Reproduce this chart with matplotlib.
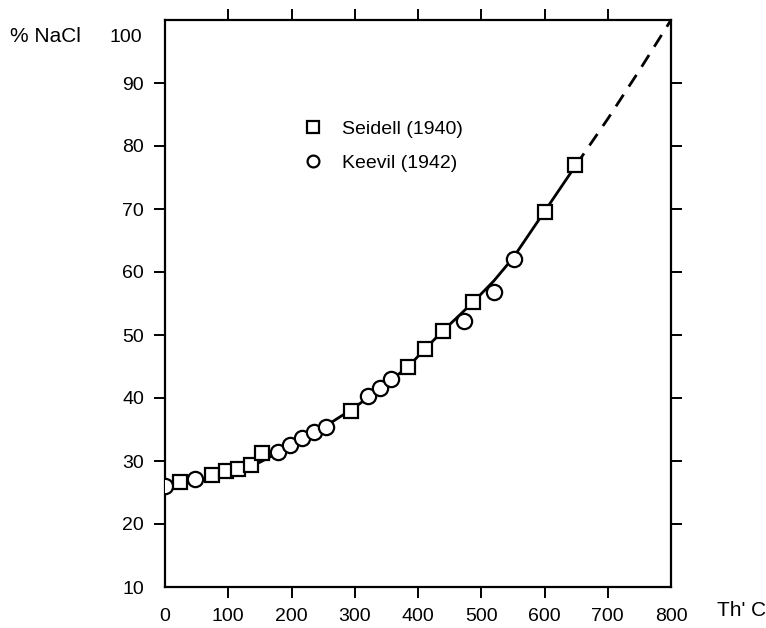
import matplotlib
matplotlib.use("Agg")
import matplotlib.pyplot as plt
from matplotlib.lines import Line2D
import matplotlib.transforms as mtransforms

plt.rcParams['font.family'] = ['Liberation Sans', 'DejaVu Sans']

# Data
seidell_T = [24, 75, 96, 116, 136, 154, 294, 384, 411, 440, 487, 601, 648]
seidell_nacl = [26.7, 27.8, 28.4, 28.8, 29.3, 31.3, 38.0, 45.0, 47.8, 50.7, 55.2, 69.6, 77.0]

keevil_T = [0, 48, 178, 198, 217, 236, 254, 321, 340, 357, 473, 520, 551]
keevil_nacl = [26.0, 27.1, 31.5, 32.5, 33.6, 34.6, 35.4, 40.3, 41.6, 43.0, 52.2, 56.9, 62.0]

curve_T = [0, 50, 100, 150, 200, 250, 300, 350, 385, 411, 440, 487, 520, 550, 600, 650]
curve_nacl = [26.0, 26.9, 28.0, 29.8, 32.4, 35.3, 38.5, 42.3, 45.0, 47.8, 50.7, 55.2, 58.6, 62.2, 69.6, 77.0]

extrap_T = [650, 700, 750, 800]
extrap_nacl = [77.0, 84.3, 92.0, 100.0]

xticks = [0, 100, 200, 300, 400, 500, 600, 700, 800]
yticks = [10, 20, 30, 40, 50, 60, 70, 80, 90]

W, H = 766, 628
fig = plt.figure(figsize=(W / 100, H / 100), dpi=100)
ax_left, ax_right, ax_top, ax_bottom = 165, 671, 20, 587
ax = fig.add_axes([ax_left / W, (H - ax_bottom) / H,
                   (ax_right - ax_left) / W, (ax_bottom - ax_top) / H])

ax.plot(curve_T, curve_nacl, color='black', lw=2.0, solid_capstyle='butt', zorder=2)
ax.plot(extrap_T, extrap_nacl, color='black', lw=2.0, ls=(0, (5, 3.5)), zorder=2)

ax.plot(keevil_T, keevil_nacl, ls='none', marker='o', ms=11, mfc='white',
        mec='black', mew=1.6, zorder=3)
ax.plot(seidell_T, seidell_nacl, ls='none', marker='s', ms=10.5, mfc='white',
        mec='black', mew=1.6, zorder=4)

ax.set_xlim(0, 800)
ax.set_ylim(10, 100)
ax.set_xticks(xticks)
ax.set_yticks(yticks)
ax.set_xticklabels([str(v) for v in xticks])
ax.set_yticklabels([str(v) for v in yticks])

ax.tick_params(axis='both', which='major', direction='out', length=8, width=1.4,
               labelsize=14, top=True, right=True)
ax.tick_params(axis='x', pad=7)
ax.tick_params(axis='y', pad=7)
for t in [ax.xaxis.get_major_ticks()[0], ax.xaxis.get_major_ticks()[-1]]:
    t.tick1line.set_visible(False)
    t.tick2line.set_visible(False)
ax.yaxis.get_major_ticks()[0].tick1line.set_visible(False)
ax.yaxis.get_major_ticks()[0].tick2line.set_visible(False)

for s in ax.spines.values():
    s.set_linewidth(1.6)

# the "100" label sits slightly below the top corner in the original
trans = mtransforms.blended_transform_factory(ax.transAxes, ax.transData)
ax.text(-0.045, 97.3, '100', ha='right', va='center', fontsize=14, transform=trans)

fig.text(10 / W, 1 - 37 / H, '% NaCl', ha='left', va='center', fontsize=15)
fig.text(717 / W, 1 - 611 / H, "Th' C", ha='left', va='center', fontsize=15)

handles = [
    Line2D([], [], ls='none', marker='s', ms=8.5, mfc='white', mec='black', mew=1.6),
    Line2D([], [], ls='none', marker='o', ms=8.5, mfc='white', mec='black', mew=1.6),
]
fig.legend(handles, ['Seidell (1940)', 'Keevil (1942)'], loc='upper left',
           bbox_to_anchor=(303 / W, 1 - 120 / H), frameon=False, fontsize=14,
           handlelength=1.0, handletextpad=1.0, borderpad=0, borderaxespad=0,
           labelspacing=0.85)

fig.savefig('out.png', dpi=100)
